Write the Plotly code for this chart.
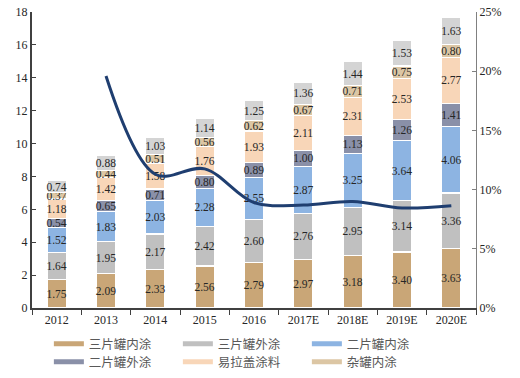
import plotly.graph_objects as go

years = ["2012", "2013", "2014", "2015", "2016", "2017E", "2018E", "2019E", "2020E"]

s_3p_in = [1.75, 2.09, 2.33, 2.56, 2.79, 2.97, 3.18, 3.40, 3.63]
s_3p_out = [1.64, 1.95, 2.17, 2.42, 2.60, 2.76, 2.95, 3.14, 3.36]
s_2p_in = [1.52, 1.83, 2.03, 2.28, 2.55, 2.87, 3.25, 3.64, 4.06]
s_2p_out = [0.54, 0.65, 0.71, 0.80, 0.89, 1.00, 1.13, 1.26, 1.41]
s_lid = [1.18, 1.42, 1.58, 1.76, 1.93, 2.11, 2.31, 2.53, 2.77]
s_misc = [0.37, 0.44, 0.51, 0.56, 0.62, 0.67, 0.71, 0.75, 0.80]
s_other = [0.74, 0.88, 1.03, 1.14, 1.25, 1.36, 1.44, 1.53, 1.63]

growth_years = ["2013", "2014", "2015", "2016", "2017E", "2018E", "2019E", "2020E"]
growth = [0.196, 0.113, 0.1175, 0.089, 0.087, 0.090, 0.0845, 0.0864]

# name, values, colour, legend row (None = not in legend)
series = [
    ("三片罐内涂", s_3p_in, "#c9a677", "legend"),
    ("三片罐外涂", s_3p_out, "#c0c0c0", "legend"),
    ("二片罐内涂", s_2p_in, "#8db4e2", "legend"),
    ("二片罐外涂", s_2p_out, "#8a90a8", "legend2"),
    ("易拉盖涂料", s_lid, "#f8d6b8", "legend2"),
    ("杂罐内涂", s_misc, "#dcc6a4", "legend2"),
    ("其他", s_other, "#d4d4d4", None),
]

fig = go.Figure()
for name, vals, color, _ in series:
    fig.add_trace(go.Bar(
        x=years, y=vals, name=name, marker=dict(color=color, line=dict(color="white", width=1.2)),
        text=[f"{v:.2f}" for v in vals], textposition="inside", insidetextanchor="middle",
        textangle=0, constraintext="none",
        textfont=dict(family="Liberation Serif", size=11.5, color="#262626"),
        showlegend=False, hoverinfo="skip",
    ))

fig.add_trace(go.Scatter(
    x=growth_years, y=growth, mode="lines", yaxis="y2",
    line=dict(color="#1f3e70", width=3, shape="spline", smoothing=1.0),
    showlegend=False, hoverinfo="skip",
))

# legend entries (swatches)
for name, vals, color, leg in series:
    if leg:
        fig.add_trace(go.Scatter(
            x=[None], y=[None], mode="lines", name=name, legend=leg,
            line=dict(color=color, width=5), showlegend=True,
        ))

legend_common = dict(
    orientation="h", xanchor="left", yanchor="middle", traceorder="normal",
    entrywidth=84, entrywidthmode="pixels",
    font=dict(family="Noto Sans CJK SC", size=12.5, color="#595959"),
    bgcolor="rgba(0,0,0,0)",
)

fig.update_layout(
    width=520, height=378,
    margin=dict(l=32, r=44, t=12, b=70, autoexpand=False),
    paper_bgcolor="white", plot_bgcolor="white",
    barmode="stack", bargap=0.615,
    font=dict(family="Liberation Serif", size=12, color="#262626"),
    xaxis=dict(
        type="category", range=[-0.5, 8.5], showline=True, linecolor="#404040", linewidth=1.5,
        ticks="outside", tickson="boundaries", ticklen=5, tickcolor="#404040", automargin=False,
        tickfont=dict(family="Liberation Serif", size=12, color="#262626"), showgrid=False,
    ),
    yaxis=dict(
        range=[0, 18], dtick=2, showline=True, linecolor="#404040", linewidth=2,
        ticks="inside", ticklen=4, tickcolor="#404040", showgrid=False, zeroline=False,
        automargin=False,
        tickfont=dict(family="Liberation Serif", size=12, color="#262626"),
    ),
    yaxis2=dict(
        range=[0, 0.25], dtick=0.05, tickformat=".0%", overlaying="y", side="right",
        showline=True, linecolor="#808080", linewidth=1, ticks="inside", ticklen=4,
        tickcolor="#808080", showgrid=False, zeroline=False, automargin=False,
        tickfont=dict(family="Liberation Serif", size=12, color="#262626"),
    ),
    legend=dict(x=0.038, y=-0.122, **legend_common),
    legend2=dict(x=0.038, y=-0.183, **legend_common),
)

fig.write_html("out.html", config={"displayModeBar": False},
               post_script="document.body.style.margin='0';")
